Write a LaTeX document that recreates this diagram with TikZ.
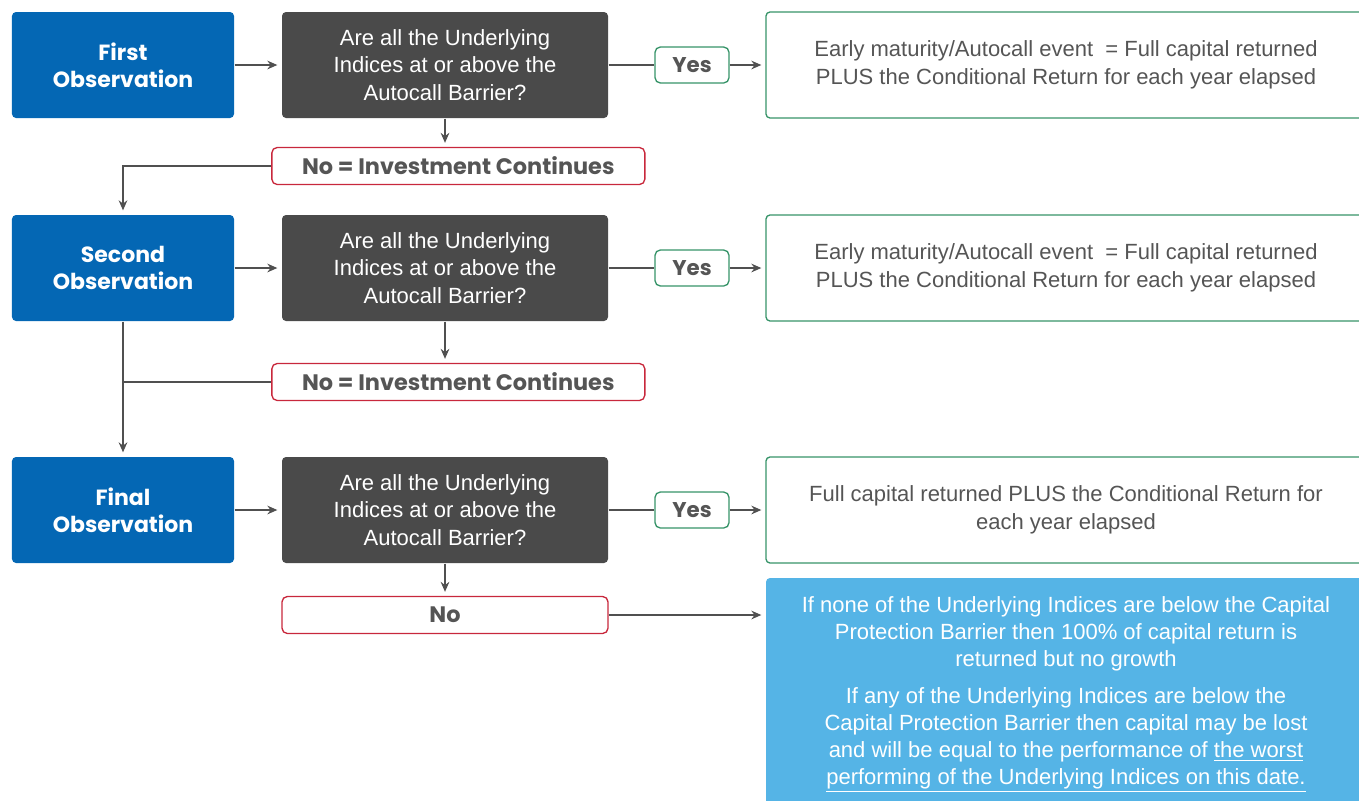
\documentclass[tikz,border=0pt]{standalone}
\usepackage{fontspec}
\setmainfont{Liberation Sans}
\newfontfamily\labelfont{Poppins}
\usetikzlibrary{arrows.meta}

\definecolor{obsblue}{RGB}{4,103,180}
\definecolor{askgrey}{RGB}{74,74,74}
\definecolor{yesgreen}{RGB}{55,148,105}
\definecolor{nored}{RGB}{200,40,60}
\definecolor{infoblue}{RGB}{85,180,230}
\definecolor{linegrey}{RGB}{80,80,80}
\definecolor{textgrey}{RGB}{85,85,85}

\begin{document}
\begin{tikzpicture}[>={Stealth[length=7.5pt, width=6.5pt]}, line width=1pt]
    \tikzstyle{obsbox} = [rectangle, fill=obsblue, text=white, rounded corners=3pt, minimum width=166.5pt, minimum height=79.5pt, align=center, font=\labelfont\bfseries\fontsize{16.5}{20.25}\selectfont]
    \tikzstyle{askbox} = [rectangle, fill=askgrey, text=white, rounded corners=3pt, minimum width=244.5pt, minimum height=79.5pt, align=center, font=\fontsize{16.5}{20.6}\selectfont]
    \tikzstyle{yesbox} = [rectangle, draw=yesgreen, fill=white, text=textgrey, rounded corners=4pt, minimum width=55.5pt, minimum height=27pt, inner sep=0pt, font=\labelfont\bfseries\fontsize{16}{18}\selectfont]
    \tikzstyle{resultbox} = [rectangle, draw=yesgreen, text=textgrey, rounded corners=3pt, minimum width=450pt, minimum height=79.5pt, align=center, font=\fontsize{16.5}{20.6}\selectfont]
    \tikzstyle{nobox} = [rectangle, draw=nored, text=textgrey, rounded corners=4pt, minimum width=279.75pt, minimum height=27.75pt, inner sep=0pt, font=\labelfont\bfseries\fontsize{16.8}{19}\selectfont]
    \tikzstyle{infobox} = [rectangle, fill=infoblue, text=white, rounded corners=3pt, minimum width=450pt, minimum height=174pt, align=center, font=\fontsize{16.5}{20.25}\selectfont]
    \tikzstyle{flow} = [->, draw=linegrey, shorten >=3pt]

    \path [use as bounding box, clip] (-92.25pt,48.75pt) rectangle (927pt,-551.25pt);

    % first observation row
    \node (obs1) [obsbox] {First\\Observation};
    \node (ask1) [askbox, node distance=241.5pt, right of=obs1] {Are all the Underlying\\Indices at or above the\\Autocall Barrier?};
    \node (yes1) [yesbox, node distance=185.25pt, right of=ask1] {Yes};
    \node (res1) [resultbox, node distance=280.5pt, right of=yes1] {Early maturity/Autocall event\ \ = Full capital returned\\PLUS the Conditional Return for each year elapsed};
    \node (no1) [nobox, node distance=75.75pt, below of=ask1, xshift=10pt] {No = Investment Continues};

    % second observation row
    \node (obs2) [obsbox, node distance=152.25pt, below of=obs1] {Second\\Observation};
    \node (ask2) [askbox, node distance=241.5pt, right of=obs2] {Are all the Underlying\\Indices at or above the\\Autocall Barrier?};
    \node (yes2) [yesbox, node distance=185.25pt, right of=ask2] {Yes};
    \node (res2) [resultbox, node distance=280.5pt, right of=yes2] {Early maturity/Autocall event\ \ = Full capital returned\\PLUS the Conditional Return for each year elapsed};
    \node (no2) [nobox, node distance=85.5pt, below of=ask2, xshift=10pt] {No = Investment Continues};

    % final observation row
    \node (obs3) [obsbox, node distance=181.5pt, below of=obs2] {Final\\Observation};
    \node (ask3) [askbox, node distance=241.5pt, right of=obs3] {Are all the Underlying\\Indices at or above the\\Autocall Barrier?};
    \node (yes3) [yesbox, node distance=185.25pt, right of=ask3] {Yes};
    \node (res3) [resultbox, node distance=280.5pt, right of=yes3] {Full capital returned PLUS the Conditional Return for\\each year elapsed};
    \node (no3) [nobox, node distance=78.75pt, below of=ask3, minimum width=244.5pt] {No};
    \node (info) [infobox, node distance=138pt, below of=res3] {If none of the Underlying Indices are below the Capital\\Protection Barrier then 100\% of capital return is\\returned but no growth\\[8pt]If any of the Underlying Indices are below the\\Capital Protection Barrier then capital may be lost\\and will be equal to the performance of \underline{the worst}\\\underline{performing of the Underlying Indices on this date.}};

    \draw [flow] (obs1) -- (ask1);
    \draw [linegrey] (ask1) -- (yes1);
    \draw [flow] (yes1) -- (res1);
    \draw [flow] (ask1.south) -- (ask1.south |- no1.north);
    \draw [flow] (no1.west) -| (obs2.north);

    \draw [flow] (obs2) -- (ask2);
    \draw [linegrey] (ask2) -- (yes2);
    \draw [flow] (yes2) -- (res2);
    \draw [flow] (ask2.south) -- (ask2.south |- no2.north);
    \draw [linegrey] (no2.west) -- (no2.west -| obs2.south);
    \draw [flow] (obs2) -- (obs3);

    \draw [flow] (obs3) -- (ask3);
    \draw [linegrey] (ask3) -- (yes3);
    \draw [flow] (yes3) -- (res3);
    \draw [flow] (ask3) -- (no3);
    \draw [flow] (no3.east) -- (no3.east -| info.west);

\end{tikzpicture}
\end{document}
